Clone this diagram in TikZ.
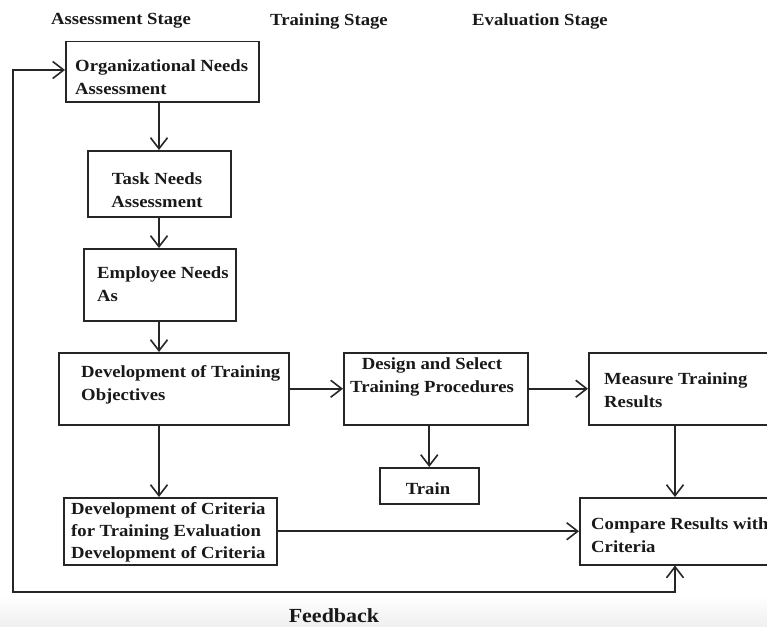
\documentclass[tikz,border=0pt]{standalone}
\usepackage{fontspec}
\setmainfont{Liberation Serif}[FakeStretch=1.1]
\usetikzlibrary{arrows.meta}
\tikzset{
  boxat/.style n args={2}{draw=black!85, line width=1.5pt, anchor=north west, inner sep=0pt,
    minimum width=#1, minimum height=#2},
  txt/.style={font=\fontsize{17}{23}\selectfont\bfseries, inner sep=0pt, align=left, text=black!90},
  ctxt/.style={txt, align=center},
  arr/.style={draw=black!85, line width=1.6pt, -{Straight Barb[length=11pt,width=17pt,line width=1.6pt]}},
  arrboth/.style={draw=black!85, line width=1.6pt, {Straight Barb[length=11pt,width=17pt,line width=1.6pt]}-{Straight Barb[length=11pt,width=17pt,line width=1.6pt]}}
}
\begin{document}
\begin{tikzpicture}[x=1pt,y=-1pt]
\useasboundingbox (0,0) rectangle (767,626);
\clip (0,0) rectangle (767,626);
\shade[top color=white, bottom color=black!6] (0,596) rectangle (767,626);

% headings
\node[txt] (h1) at (121,21) {Assessment Stage};
\node[txt] (h2) at (329,21) {Training Stage};
\node[txt] (h3) at (540,21) {Evaluation Stage};

% boxes
\node[boxat={193pt}{60pt}] (b1) at (65,41) {};
\node[boxat={143pt}{66pt}] (b2) at (87,150) {};
\node[boxat={152pt}{72pt}] (b3) at (83,248) {};
\node[boxat={230pt}{72pt}] (b4) at (58,352) {};
\node[boxat={184pt}{72pt}] (b5) at (343,352) {};
\node[boxat={212pt}{72pt}] (b6) at (588,352) {};
\node[boxat={99pt}{36pt}] (tr) at (379,467) {};
\node[boxat={213pt}{67pt}] (b7) at (63,497) {};
\node[boxat={221pt}{67pt}] (b8) at (579,497) {};

% texts
\node[txt, anchor=west] (t1) at (75,77) {Organizational Needs\\Assessment};
\node[ctxt] (t2) at (157,190) {Task Needs\\Assessment};
\node[txt, anchor=west] (t3) at (97,284) {Employee Needs\\As};
\node[txt, anchor=west] (t4) at (81,385) {Development of Training\\Objectives};
\node[ctxt] (t5) at (432,377) {Design and Select\\Training Procedures};
\node[txt, anchor=west] (t6) at (604,390) {Measure Training\\Results};
\node[ctxt] (t7) at (428,489) {Train};
\node[txt, anchor=west, font=\fontsize{17}{22}\selectfont\bfseries] (t8) at (71,532) {Development of Criteria\\for Training Evaluation\\Development of Criteria};
\node[txt, anchor=west] (t9) at (591,535) {Compare Results with\\Criteria};
\node[txt, font=\fontsize{20}{24}\selectfont\bfseries] (fb) at (334,616) {Feedback};

% helper coordinates
\coordinate (colA) at (159,0);
\coordinate (colC) at (675,0);
\coordinate (fbl) at (13,592);
\coordinate (fbt) at (13,70);

% connectors
\draw[arr] (b1.south -| colA) -- (b2.north -| colA);
\draw[arr] (b2.south -| colA) -- (b3.north -| colA);
\draw[arr] (b3.south -| colA) -- (b4.north -| colA);
\draw[arr] (b4.south -| colA) -- (b7.north -| colA);
\draw[arr] (b4.east) -- (b5.west);
\draw[arr] (b5.east) -- (b6.west);
\draw[arr] (tr.north |- b5.south) -- (tr.north);
\draw[arr] (b6.south -| colC) -- (b8.north -| colC);
\draw[arr] (b7.east) -- (b8.west |- b7.east);
\draw[arrboth] (b8.south -| colC) |- (fbl) -- (fbt) -- (b1.west |- fbt);
\end{tikzpicture}
\end{document}
